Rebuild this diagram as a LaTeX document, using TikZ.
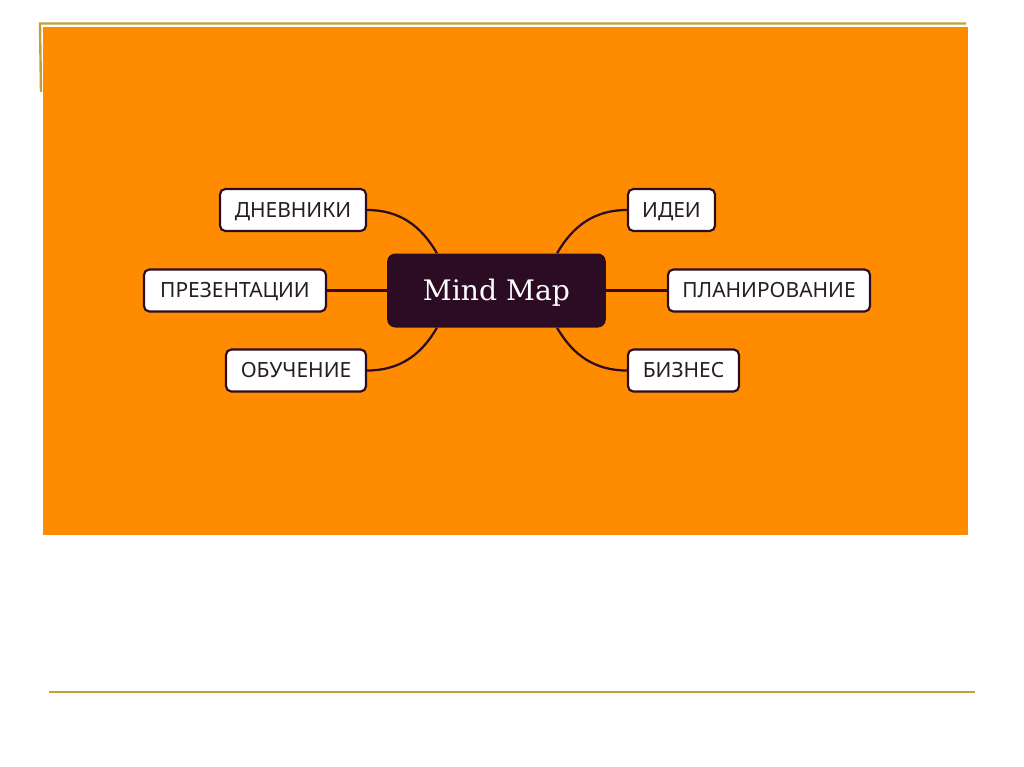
\documentclass[tikz,border=0pt]{standalone}
\usepackage{fontspec}
\newfontfamily\labfont{Noto Sans}
\newfontfamily\mmfont{DejaVu Serif}
\usetikzlibrary{calc}
\definecolor{bgorange}{RGB}{255,140,0}
\definecolor{deep}{RGB}{44,12,36}
\definecolor{gold}{RGB}{196,160,48}
\definecolor{ink}{RGB}{40,28,36}
\tikzset{
  leaf/.style={draw=deep, line width=1.6pt, fill=white, rounded corners=4pt,
    minimum height=31.5pt, inner sep=0pt, text=ink, text height=11.1pt, text depth=0pt,
    font=\labfont\fontsize{15.7}{18}\selectfont},
  hub/.style={fill=deep, rounded corners=6pt, minimum width=164pt, minimum height=55.5pt,
    inner sep=0pt, text=white, text height=15.4pt, text depth=0pt,
    font=\mmfont\fontsize{21.2}{25}\selectfont},
  link/.style={draw=deep, line width=1.7pt},
  rule/.style={draw=gold, line width=1.8pt}
}
\begin{document}
\begin{tikzpicture}[x=0.75pt,y=-0.75pt]
\useasboundingbox (0,0) rectangle (1024,767);
\fill[white] (0,0) rectangle (1024,767);
% gold rules
\coordinate (t1) at (40,23.5);
\coordinate (t2) at (966,23.5);
\coordinate (t3) at (41,92);
\coordinate (b1) at (49,692);
\coordinate (b2) at (975,692);
\draw[rule] (t2) -- (t1) -- (t3);
\draw[rule] (b1) -- (b2);
% orange panel
\fill[bgorange] (43,27) rectangle (968,535);
% hub
\node[hub] (mm) at (496.5,290.5) {Mind Map};
% leaves
\node[leaf, minimum width=109.5pt] (dn) at (293,210) {ДНЕВНИКИ};
\node[leaf, minimum width=136.5pt] (pr) at (235,290.5) {ПРЕЗЕНТАЦИИ};
\node[leaf, minimum width=105pt] (ob) at (296,370.5) {ОБУЧЕНИЕ};
\node[leaf, minimum width=65.25pt] (id) at (671.5,210) {ИДЕИ};
\node[leaf, minimum width=151.5pt] (pl) at (769,290.5) {ПЛАНИРОВАНИЕ};
\node[leaf, minimum width=83.25pt] (bz) at (683.5,370.5) {БИЗНЕС};
% links
\coordinate (mtl) at ([xshift=37.5pt]mm.north west);
\coordinate (mbl) at ([xshift=37.5pt]mm.south west);
\coordinate (mtr) at ([xshift=-36.75pt]mm.north east);
\coordinate (mbr) at ([xshift=-36.75pt]mm.south east);
\draw[link] (dn.east) to[out=0,in=120] (mtl);
\draw[link] (ob.east) to[out=0,in=-120] (mbl);
\draw[link] (id.west) to[out=180,in=60] (mtr);
\draw[link] (bz.west) to[out=180,in=-60] (mbr);
\draw[link] (pr.east) -- (pr.east -| mm.west);
\draw[link] (pl.west) -- (pl.west -| mm.east);
\end{tikzpicture}
\end{document}
